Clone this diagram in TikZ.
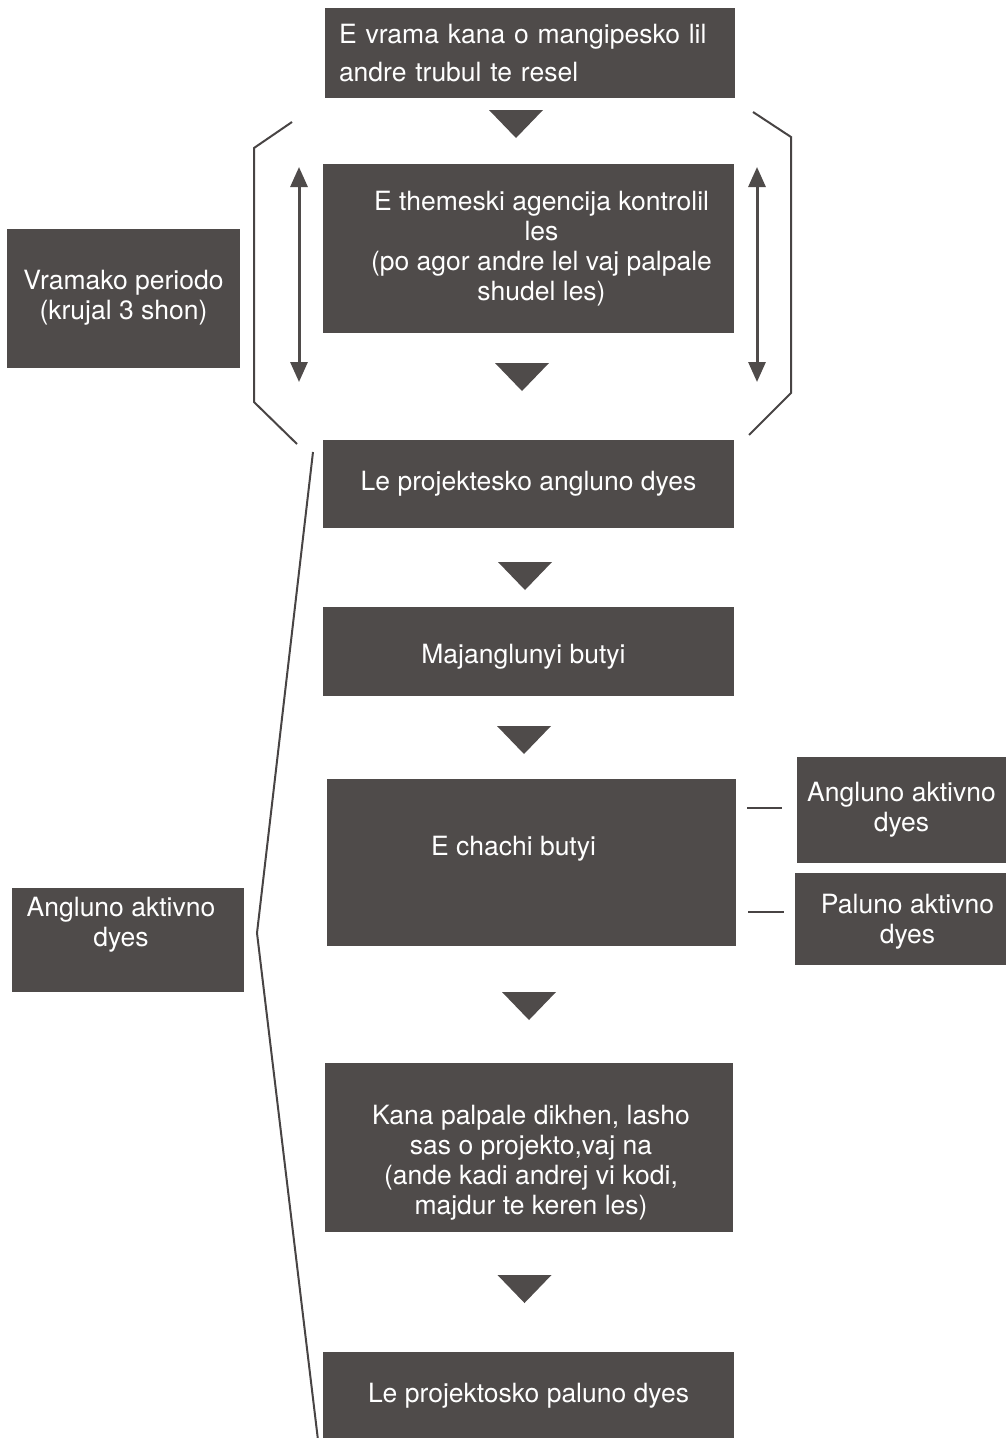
\documentclass[tikz,border=0pt]{standalone}
\usepackage{fontspec}
\setmainfont{TeX Gyre Heros}
\usetikzlibrary{positioning, arrows.meta}

\definecolor{boxgray}{RGB}{79,75,74}
\definecolor{linegray}{RGB}{72,68,68}

\tikzset{
	stepbox/.style={rectangle, fill=boxgray, text=white, inner sep=0pt, minimum width=411pt, align=center, font=\fontsize{26.5}{30}\selectfont},
	sidebox/.style={rectangle, fill=boxgray, text=white, inner sep=0pt, align=center, font=\fontsize{26.5}{30}\selectfont},
	boxtext/.style={text=white, inner sep=0pt, align=center, font=\fontsize{26.5}{30}\selectfont},
	frameline/.style={draw=linegray, line width=2pt},
	looparrow/.style={draw=boxgray, line width=3pt, {Triangle[length=20pt,width=17pt]}-{Triangle[length=20pt,width=17pt]}},
	downtri/.style={fill=boxgray}
}

\begin{document}
\begin{tikzpicture}[x=1pt, y=-1pt]
		\useasboundingbox (0,0) rectangle (1006,1438);
		
		% main column
		\node[stepbox, minimum width=410pt, minimum height=90pt, text width=382pt, align=left, font=\fontsize{26.5}{38}\selectfont] (request) at (530,53) {E vrama kana o mangipesko lil\\andre trubul te resel};
		\node[stepbox, minimum height=169pt] (control) at (528.5,248.5) {};
		\node[boxtext] (controltxt) at ([xshift=13pt]control.center) {E themeski agencija kontrolil\\les\\(po agor andre lel vaj palpale\\shudel les)};
		\node[stepbox, minimum height=88pt] (accepted) at (528.5,484) {Le projektesko angluno dyes};
		\node[stepbox, minimum height=89pt] (midway) at (528.5,651.5) {};
		\node[boxtext] (midwaytxt) at ([xshift=-5pt,yshift=-5pt]midway.center) {Majanglunyi butyi};
		\node[stepbox, minimum width=409pt, minimum height=167pt] (check) at (531.5,862.5) {};
		\node[boxtext] (checktxt) at ([xshift=-18pt,yshift=14pt]check.center) {E chachi butyi};
		\node[stepbox, minimum width=408pt, minimum height=169pt] (handback) at (529,1147.5) {};
		\node[boxtext] (handbacktxt) at ([xshift=2pt,yshift=-15pt]handback.center) {Kana palpale dikhen, lasho\\sas o projekto,vaj na\\(ande kadi andrej vi kodi,\\majdur te keren les)};
		\node[stepbox, minimum height=88pt] (closed) at (528.5,1396) {Le projektosko paluno dyes};
		
		% side boxes
		\node[sidebox, minimum width=233pt, minimum height=139pt] (period) at (123.5,298) {Vramako periodo\\(krujal 3 shon)};
		\node[sidebox, minimum width=232pt, minimum height=104pt] (active) at (128,940) {};
		\node[boxtext] (activetxt) at ([xshift=-7pt,yshift=15pt]active.center) {Angluno aktivno\\dyes};
		\node[sidebox, minimum width=209pt, minimum height=106pt] (okyes) at (901.5,810) {Angluno aktivno\\dyes};
		\node[sidebox, minimum width=211pt, minimum height=92pt] (okno) at (900.5,919) {};
		\node[boxtext] (oknotxt) at ([xshift=7pt,yshift=-3pt]okno.center) {Paluno aktivno\\dyes};
		
		% arrows between the steps
		\foreach \x/\y in {516/110, 522/363, 525/562, 524/726, 529/992, 524.5/1275}
			\fill[downtri] (\x-27,\y) -- (\x+27,\y) -- (\x,\y+28) -- cycle;
		
		% brackets
		\draw[frameline] (292,122) -- (254,148) -- (254,402) -- (297,444);
		\draw[frameline] (753,112) -- (791,137) -- (791,393) -- (749,435);
		\draw[frameline] (313,452) -- (257,933) -- (318,1440);
		
		% loop arrows
		\coordinate (lt) at (299,167);
		\coordinate (lb) at (299,382);
		\coordinate (rt) at (757,167);
		\coordinate (rb) at (757,382);
		\draw[looparrow] (lt) -- (lb);
		\draw[looparrow] (rt) -- (rb);
		
		% ticks to the outcomes
		\coordinate (ya) at (747,808);
		\coordinate (yb) at (782,808);
		\coordinate (na) at (748,912);
		\coordinate (nb) at (784,912);
		\draw[frameline] (ya) -- (yb);
		\draw[frameline] (na) -- (nb);

	\end{tikzpicture}
\end{document}
